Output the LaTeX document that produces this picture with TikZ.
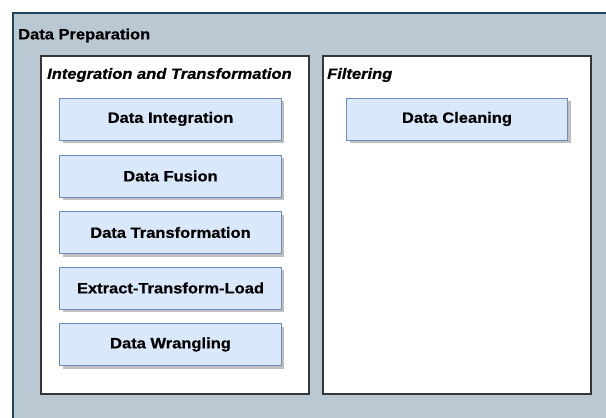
\documentclass[tikz,border=0pt]{standalone}
\usepackage{fontspec}
\setmainfont{Liberation Sans}[FakeStretch=1.1, BoldFeatures={FakeBold=0.6}, BoldItalicFeatures={FakeBold=0.6}]
\usetikzlibrary{shadows}
\definecolor{prepfill}{HTML}{BAC8D3}
\definecolor{prepline}{HTML}{23445D}
\definecolor{itemfill}{HTML}{DAE8FC}
\definecolor{itemline}{HTML}{6C8EBF}
\definecolor{groupline}{HTML}{363636}
\tikzset{
  prep/.style={draw=prepline, fill=prepfill, line width=1.3bp},
  group/.style={draw=groupline, fill=white, line width=1.3bp, minimum width=268bp, minimum height=338bp, inner sep=0pt},
  item/.style={draw=itemline, fill=itemfill, line width=1bp, minimum width=221bp, minimum height=42bp, inner sep=0pt,
    font=\fontsize{15bp}{18bp}\selectfont\bfseries,
    drop shadow={shadow xshift=3bp, shadow yshift=-3bp, fill=black!25, opacity=1}},
  title/.style={anchor=west, inner sep=0pt, font=\fontsize{15bp}{18bp}\selectfont\bfseries},
  ititle/.style={title, font=\fontsize{15bp}{18bp}\selectfont\bfseries\itshape},
}
\begin{document}
\begin{tikzpicture}[x=1bp, y=-1bp]
  \useasboundingbox (0,0) rectangle (606,417);
  \fill[white] (0,0) rectangle (606,417);
  % outer container, open to the right and bottom edges
  \path[prep] (13,13) rectangle (610,421);
  \node[title] (preptitle) at (18,35.5) {Data Preparation};
  % groups
  \node[group] (integ) at (175,225) {};
  \node[group] (filt) at (457,225) {};
  \node[ititle] (integtitle) at (47,75) {Integration and Transformation};
  \node[ititle] (filttitle) at (327,75) {Filtering};
  % items
  \node[item] (di) at (170.5,119) {Data Integration};
  \node[item] (df) at (170.5,176) {Data Fusion};
  \node[item] (dt) at (170.5,232.5) {Data Transformation};
  \node[item] (etl) at (170.5,288) {Extract-Transform-Load};
  \node[item] (dw) at (170.5,344.5) {Data Wrangling};
  \node[item] (dc) at (457,119) {Data Cleaning};
\end{tikzpicture}
\end{document}
